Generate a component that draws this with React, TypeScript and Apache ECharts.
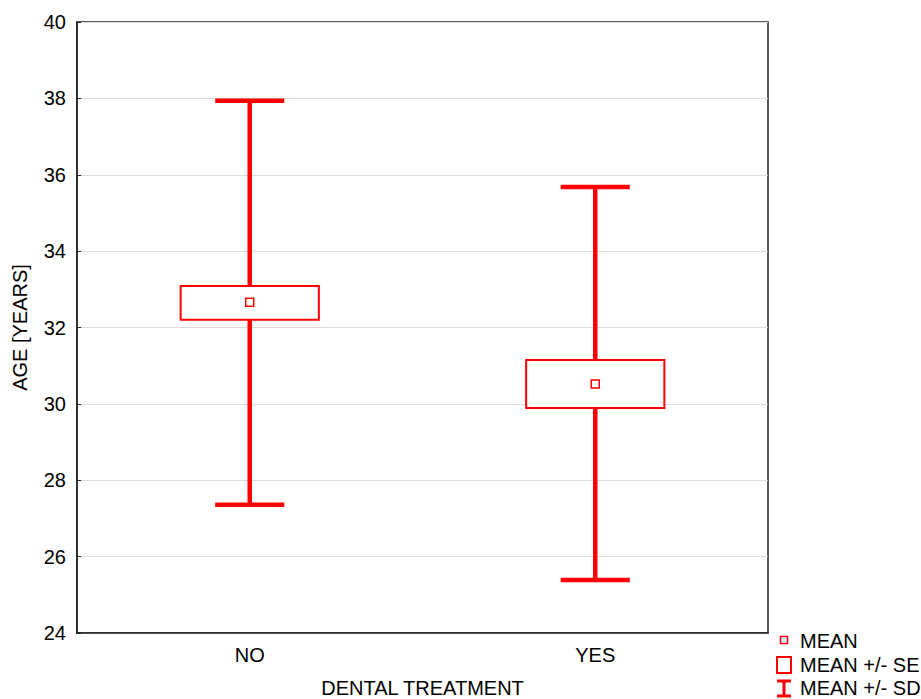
import React, { useEffect, useRef } from "react";
import * as echarts from "echarts";

const categories = ["NO", "YES"];
const means = [32.66, 30.52];
const seLow = [32.2, 29.89];
const seHigh = [33.09, 31.15];
const sdLow = [27.36, 25.39];
const sdHigh = [37.94, 35.68];
const yTicks = { min: 24, max: 40, interval: 2 };

const RED = "#ff0000";
const FONT = "Liberation Sans, Arial, sans-serif";
const FS = 20;

export default function App() {
  const ref = useRef<HTMLDivElement>(null);
  useEffect(() => {
    document.body.style.margin = "0";
    const chart = echarts.init(ref.current!, null, { renderer: "svg" });
    const data = categories.map((_, i) => [i, means[i], seLow[i], seHigh[i], sdLow[i], sdHigh[i]]);
    chart.setOption({
      animation: false,
      backgroundColor: "#fff",
      textStyle: { fontFamily: FONT },
      grid: {
        left: 77,
        top: 22,
        right: 153,
        bottom: 66,
        outerBoundsMode: "none",
        containLabel: false,
        show: true,
        borderColor: "#222",
        borderWidth: 1.5,
        backgroundColor: "transparent",
      },
      xAxis: {
        type: "category",
        data: categories,
        boundaryGap: true,
        name: "DENTAL TREATMENT",
        nameLocation: "middle",
        nameGap: 45,
        nameTextStyle: { fontSize: FS, color: "#000", fontFamily: FONT },
        axisLine: { lineStyle: { color: "#222", width: 1.5 } },
        axisTick: { inside: true, length: 4, alignWithLabel: true, lineStyle: { color: "#222" } },
        axisLabel: { fontSize: FS, color: "#000", margin: 12, fontFamily: FONT },
        splitLine: { show: false },
      },
      yAxis: {
        type: "value",
        min: yTicks.min,
        max: yTicks.max,
        interval: yTicks.interval,
        name: "AGE [YEARS]",
        nameLocation: "middle",
        nameRotate: 90,
        nameGap: 47,
        nameTextStyle: { fontSize: FS, color: "#000", fontFamily: FONT },
        axisLine: { show: true, lineStyle: { color: "#222", width: 1.5 } },
        axisTick: { show: true, inside: true, length: 4, lineStyle: { color: "#222" } },
        axisLabel: { fontSize: FS, color: "#000", margin: 11, fontFamily: FONT },
        splitLine: { show: true, lineStyle: { color: "#dcdcdc", width: 1 } },
      },
      series: [
        {
          type: "custom",
          data,
          encode: { x: 0, y: [1, 2, 3, 4, 5] },
          renderItem: (params: any, api: any) => {
            const idx = api.value(0);
            const band = api.size([1, 0])[0];
            const boxW = band * 0.4;
            const capW = band * 0.2;
            const pMean = api.coord([idx, api.value(1)]);
            const pSeLo = api.coord([idx, api.value(2)]);
            const pSeHi = api.coord([idx, api.value(3)]);
            const pSdLo = api.coord([idx, api.value(4)]);
            const pSdHi = api.coord([idx, api.value(5)]);
            const x = pMean[0];
            const whisker = { stroke: RED, lineWidth: 4.5 };
            return {
              type: "group",
              children: [
                { type: "line", shape: { x1: x, y1: pSdHi[1], x2: x, y2: pSeHi[1] }, style: whisker },
                { type: "line", shape: { x1: x, y1: pSeLo[1], x2: x, y2: pSdLo[1] }, style: whisker },
                { type: "line", shape: { x1: x - capW / 2, y1: pSdHi[1], x2: x + capW / 2, y2: pSdHi[1] }, style: whisker },
                { type: "line", shape: { x1: x - capW / 2, y1: pSdLo[1], x2: x + capW / 2, y2: pSdLo[1] }, style: whisker },
                {
                  type: "rect",
                  shape: { x: x - boxW / 2, y: pSeHi[1], width: boxW, height: pSeLo[1] - pSeHi[1] },
                  style: { fill: "#fff", stroke: RED, lineWidth: 2 },
                },
                {
                  type: "rect",
                  shape: { x: x - 4, y: pMean[1] - 4, width: 8, height: 8 },
                  style: { fill: "#fff", stroke: RED, lineWidth: 1.5 },
                },
              ],
            };
          },
        },
      ],
      graphic: [
        { type: "rect", shape: { x: 780.5, y: 636.5, width: 7, height: 7 }, style: { fill: "#fff", stroke: RED, lineWidth: 1.5 } },
        { type: "text", x: 800, y: 641, style: { text: "MEAN", font: `${FS}px ${FONT}`, fill: "#000", verticalAlign: "middle" } },
        { type: "rect", shape: { x: 777, y: 657, width: 14, height: 16 }, style: { fill: "#fff", stroke: RED, lineWidth: 2 } },
        { type: "text", x: 800, y: 665, style: { text: "MEAN +/- SE", font: `${FS}px ${FONT}`, fill: "#000", verticalAlign: "middle" } },
        { type: "line", shape: { x1: 777, y1: 681, x2: 791, y2: 681 }, style: { stroke: RED, lineWidth: 3 } },
        { type: "line", shape: { x1: 784, y1: 681, x2: 784, y2: 696 }, style: { stroke: RED, lineWidth: 3 } },
        { type: "line", shape: { x1: 777, y1: 696, x2: 791, y2: 696 }, style: { stroke: RED, lineWidth: 3 } },
        { type: "text", x: 800, y: 688, style: { text: "MEAN +/- SD", font: `${FS}px ${FONT}`, fill: "#000", verticalAlign: "middle" } },
      ],
    });
    return () => chart.dispose();
  }, []);
  return <div ref={ref} style={{ width: 921, height: 699 }} />;
}
